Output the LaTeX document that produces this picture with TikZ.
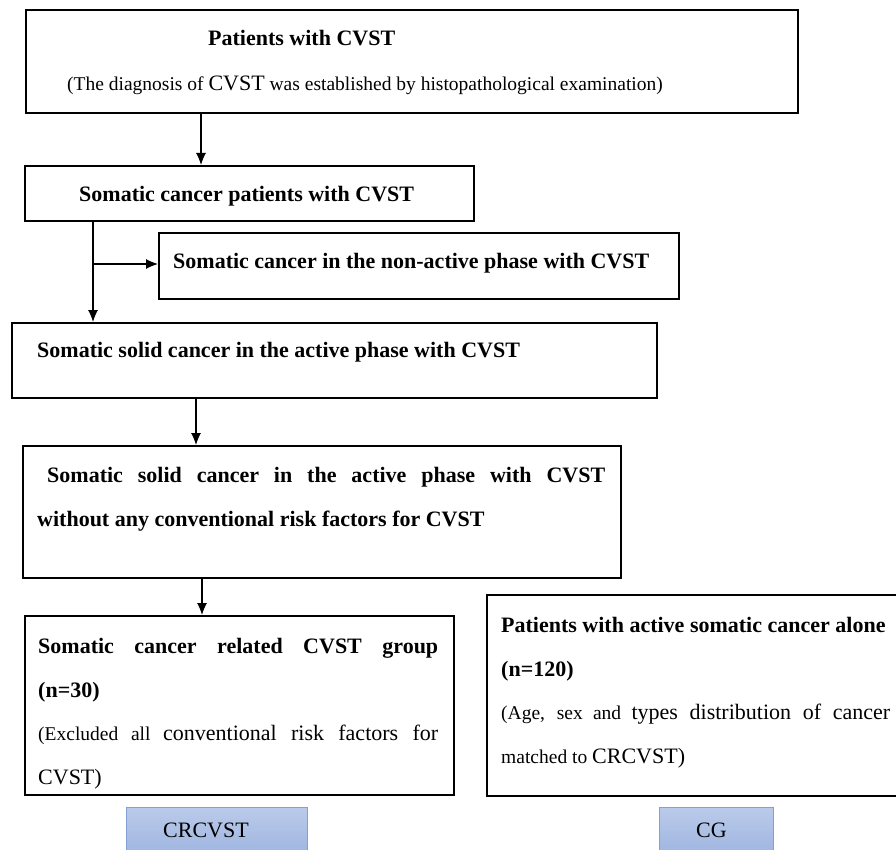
\documentclass[tikz,border=0pt]{standalone}
\usepackage{fontspec}
\setmainfont{Liberation Serif}
\usetikzlibrary{arrows.meta,calc}
\definecolor{btntop}{RGB}{186,202,234}
\definecolor{btnbot}{RGB}{152,176,222}
\definecolor{btnedge}{RGB}{130,160,214}
\newcommand{\bigf}{\fontsize{22}{26}\selectfont}
\newcommand{\smallf}{\fontsize{19.5}{24}\selectfont}
\begin{document}
\begin{tikzpicture}[x=1pt,y=-1pt,
  box/.style={draw=black, line width=1.6pt, anchor=north west, inner sep=0pt},
  arr/.style={-{Latex[length=12pt,width=10pt]}, line width=1.1pt},
  txt/.style={anchor=base west, inner sep=0pt, font=\bigf},
  btxt/.style={anchor=base west, inner sep=0pt, font=\bigf\bfseries},
  btn/.style={draw=btnedge, line width=0.8pt, top color=btntop, bottom color=btnbot, anchor=north west, inner sep=0pt},
]
\clip (0,0) rectangle (896,850);
% boxes
\node[box, minimum width=772pt, minimum height=103pt] (b1) at (25,9) {};
\node[box, minimum width=449pt, minimum height=55pt] (b2) at (24,165) {};
\node[box, minimum width=520pt, minimum height=66pt] (bn) at (158,232) {};
\node[box, minimum width=645pt, minimum height=75pt] (b3) at (11,322) {};
\node[box, minimum width=598pt, minimum height=132pt] (b4) at (22,445) {};
\node[box, minimum width=429pt, minimum height=179pt] (b5) at (24,615) {};
\node[box, minimum width=440pt, minimum height=201pt] (b6) at (486,594) {};
\node[btn, minimum width=181pt, minimum height=60pt] (g1) at (126,807) {};
\node[btn, minimum width=114pt, minimum height=60pt] (g2) at (659,807) {};
% texts
\node[btxt] (t1) at (208,46) {Patients with CVST};
\node[txt] (t1s) at (67,91) {\smallf(The diagnosis of \bigf CVST\smallf{} was established by histopathological examination)};
\node[btxt] (t2) at (79,202) {Somatic cancer patients with CVST};
\node[btxt] (tn) at (173,269) {Somatic cancer in the non-active phase with CVST};
\node[btxt] (t3) at (37,357) {Somatic solid cancer in the active phase with CVST};
\node[btxt] (t4a) at (47,482) {\makebox[558pt][s]{Somatic solid cancer in the active phase with CVST}};
\node[btxt] (t4b) at (37,526) {without any conventional risk factors for CVST};
\node[btxt] (t5a) at (38,653) {\makebox[400pt][s]{Somatic cancer related CVST group}};
\node[btxt] (t5b) at (38,697) {(n=30)};
\node[txt] (t5c) at (38,740) {\makebox[400pt][s]{\smallf(Excluded all \bigf conventional risk factors for}};
\node[txt] (t5d) at (38,784) {CVST)};
\node[btxt] (t6a) at (501,632) {Patients with active somatic cancer alone};
\node[btxt] (t6b) at (501,676) {(n=120)};
\node[txt] (t6c) at (501,719) {\makebox[389pt][s]{\smallf(Age, sex and \bigf types distribution of cancer}};
\node[txt] (t6d) at (501,763) {\smallf matched to \bigf CRCVST)};
\node[txt] (tg1) at (163,837) {CRCVST};
\node[txt] (tg2) at (696,837) {CG};
% connectors
\draw[arr] ($(b1.south west)+(176,0)$) -- ($(b2.north west)+(177,0)$);
\draw[arr] ($(b2.south west)+(69,0)$) -- ($(b3.north west)+(82,0)$);
\coordinate (br) at (93,264);
\draw[arr] (br) -- (br -| bn.west);
\draw[arr] ($(b3.south west)+(185,0)$) -- ($(b4.north west)+(174,0)$);
\draw[arr] ($(b4.south west)+(180,0)$) -- ($(b5.north west)+(178,0)$);
\end{tikzpicture}
\end{document}
